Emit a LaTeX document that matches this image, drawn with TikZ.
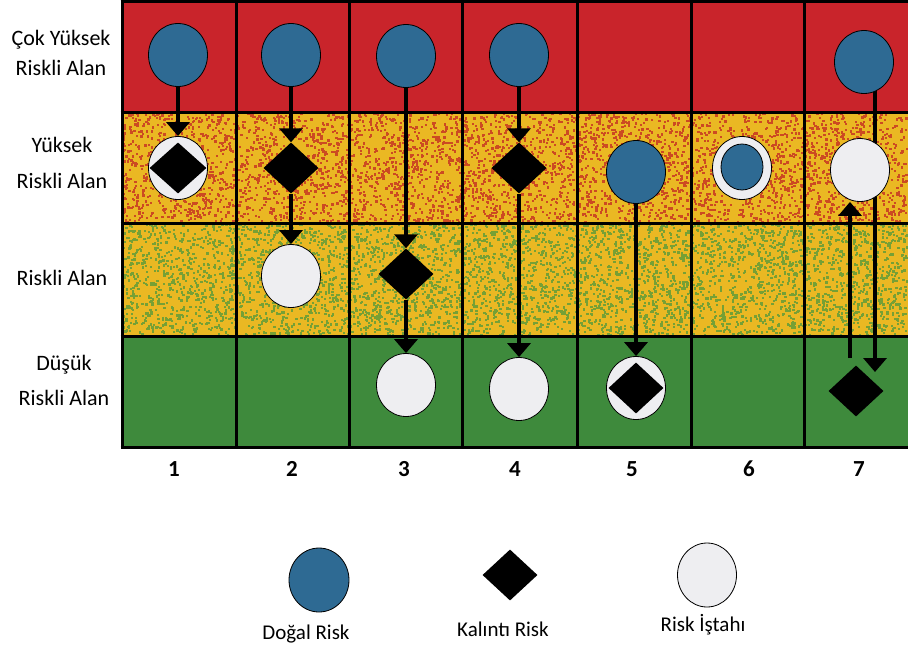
\documentclass[tikz,border=0pt]{standalone}
\usepackage{fontspec}
\setmainfont{Carlito}
\usetikzlibrary{shapes.geometric,arrows.meta}
\pgfdeclarelayer{gridlayer}
\pgfdeclarelayer{connlayer}
\pgfsetlayers{gridlayer,connlayer,main}
\definecolor{cred}{HTML}{C9242B}
\definecolor{cyel}{HTML}{EAB823}
\definecolor{cspeckred}{HTML}{CC4A22}
\definecolor{cspeckgreen}{HTML}{76A035}
\definecolor{cgreen}{HTML}{3E8A3C}
\definecolor{cblue}{HTML}{2E6A93}
\definecolor{cwhite}{HTML}{EEEEF1}
\tikzset{
  blueball/.style={ellipse,draw=black,line width=0.8pt,fill=cblue,minimum width=59pt,minimum height=63pt,inner sep=0pt},
  whiteball/.style={ellipse,draw=black,line width=0.8pt,fill=cwhite,minimum width=59pt,minimum height=63pt,inner sep=0pt},
  smallblue/.style={ellipse,draw=black,line width=0.8pt,fill=cblue,minimum width=42pt,minimum height=46pt,inner sep=0pt},
  gem/.style={diamond,fill=black,minimum width=55pt,minimum height=51pt,inner sep=0pt},
  arr/.style={line width=4pt,-{Triangle[width=23pt,length=14pt]}},
  gridline/.style={line width=3pt,black},
  lab/.style={font=\fontsize{22}{33}\selectfont,align=center,inner sep=0pt},
  num/.style={font=\bfseries\fontsize{23}{26}\selectfont,inner sep=0pt},
  leglab/.style={font=\fontsize{21}{25}\selectfont,inner sep=0pt},
}
\begin{document}
\begin{tikzpicture}[x=1pt,y=-1pt]
\useasboundingbox (0,0) rectangle (908,654);
\begin{pgfonlayer}{gridlayer}
  \fill[white] (0,0) rectangle (908,654);
  \fill[cred] (122,0) rectangle (908,112);
  \fill[cyel] (122,112) rectangle (908,223);
  \fill[cyel] (122,223) rectangle (908,336);
  \fill[cgreen] (122,336) rectangle (908,447);
  \pgfmathsetseed{11}
  \foreach \i in {1,...,4500}{
    \fill[cspeckred] ({122+784*rnd},{112+109*rnd}) rectangle ++(2.3,2.3);
  }
  \foreach \i in {1,...,5000}{
    \fill[cspeckgreen] ({122+784*rnd},{223+111*rnd}) rectangle ++(2.3,2.3);
  }
  \foreach \y in {1.5,112,223,336,447}
    \draw[gridline] (120.5,\y) -- (908,\y);
  \foreach \x in {122,236,349,462,577,691,804}
    \draw[gridline] (\x,0) -- (\x,448.5);
\end{pgfonlayer}

% row labels
\node[lab] (l1) at (61,53) {Çok Yüksek\\[-3pt]Riskli Alan};
\node[lab] (l2) at (62,163) {Yüksek\\[3pt]Riskli Alan};
\node[lab] (l3) at (62,278) {Riskli Alan};
\node[lab] (l4) at (64,380) {Düşük\\[2pt]Riskli Alan};

% column 1
\node[blueball] (b1) at (178,55) {};
\node[whiteball] (w1) at (178,168) {};
\node[gem,minimum width=57pt] (d1) at (178,168) {};
% column 2
\node[blueball] (b2) at (291,55) {};
\node[gem] (d2) at (291,168) {};
\node[whiteball] (w2) at (291,276) {};
% column 3
\node[blueball] (b3) at (406,56) {};
\node[gem] (d3) at (406,274) {};
\node[whiteball] (w3) at (406,385) {};
% column 4
\node[blueball] (b4) at (519,55) {};
\node[gem] (d4) at (519,168) {};
\node[whiteball] (w4) at (519,389) {};
% column 5
\node[blueball] (b5) at (636,172) {};
\node[whiteball] (w5) at (636,388) {};
\node[gem] (d5) at (636,388) {};
% column 6
\node[whiteball] (w6) at (742,168) {};
\node[smallblue] (s6) at (742,167) {};
% column 7
\node[blueball] (b7) at (864,62) {};
\node[whiteball] (w7) at (860,170) {};
\node[gem] (d7) at (856,391) {};
\coordinate (t7) at (875,372);
\coordinate (u7) at (850,358);

\begin{pgfonlayer}{connlayer}
  \draw[arr] (b1) -- (w1.north);
  \draw[arr] (b2) -- (d2.north);
  \draw[arr] (d2) -- (w2.north);
  \draw[arr] (b3) -- (d3.north);
  \draw[arr] (d3) -- (w3.north);
  \draw[arr] (b4) -- (d4.north);
  \draw[arr] (d4) -- (w4.north);
  \draw[arr] (b5) -- (w5.north);
  \draw[arr] ([xshift=11pt]b7.center) -- (t7);
  \draw[arr] (u7) -- ([xshift=-10pt]w7.south);
\end{pgfonlayer}

% column numbers
\node[num] (n1) at (174,469) {1};
\node[num] (n2) at (292,469) {2};
\node[num] (n3) at (404,469) {3};
\node[num] (n4) at (515,469) {4};
\node[num] (n5) at (632,469) {5};
\node[num] (n6) at (749,469) {6};
\node[num] (n7) at (859,469) {7};

% legend
\node[blueball,minimum width=60pt,minimum height=64pt] (lb) at (319,580) {};
\node[gem] (ld) at (510,575) {};
\node[whiteball,minimum height=64pt] (lw) at (707,575) {};
\node[leglab] (tb) at (306,634) {Doğal Risk};
\node[leglab] (td) at (503,629) {Kalıntı Risk};
\node[leglab] (tw) at (703,625) {Risk İştahı};
\end{tikzpicture}
\end{document}
